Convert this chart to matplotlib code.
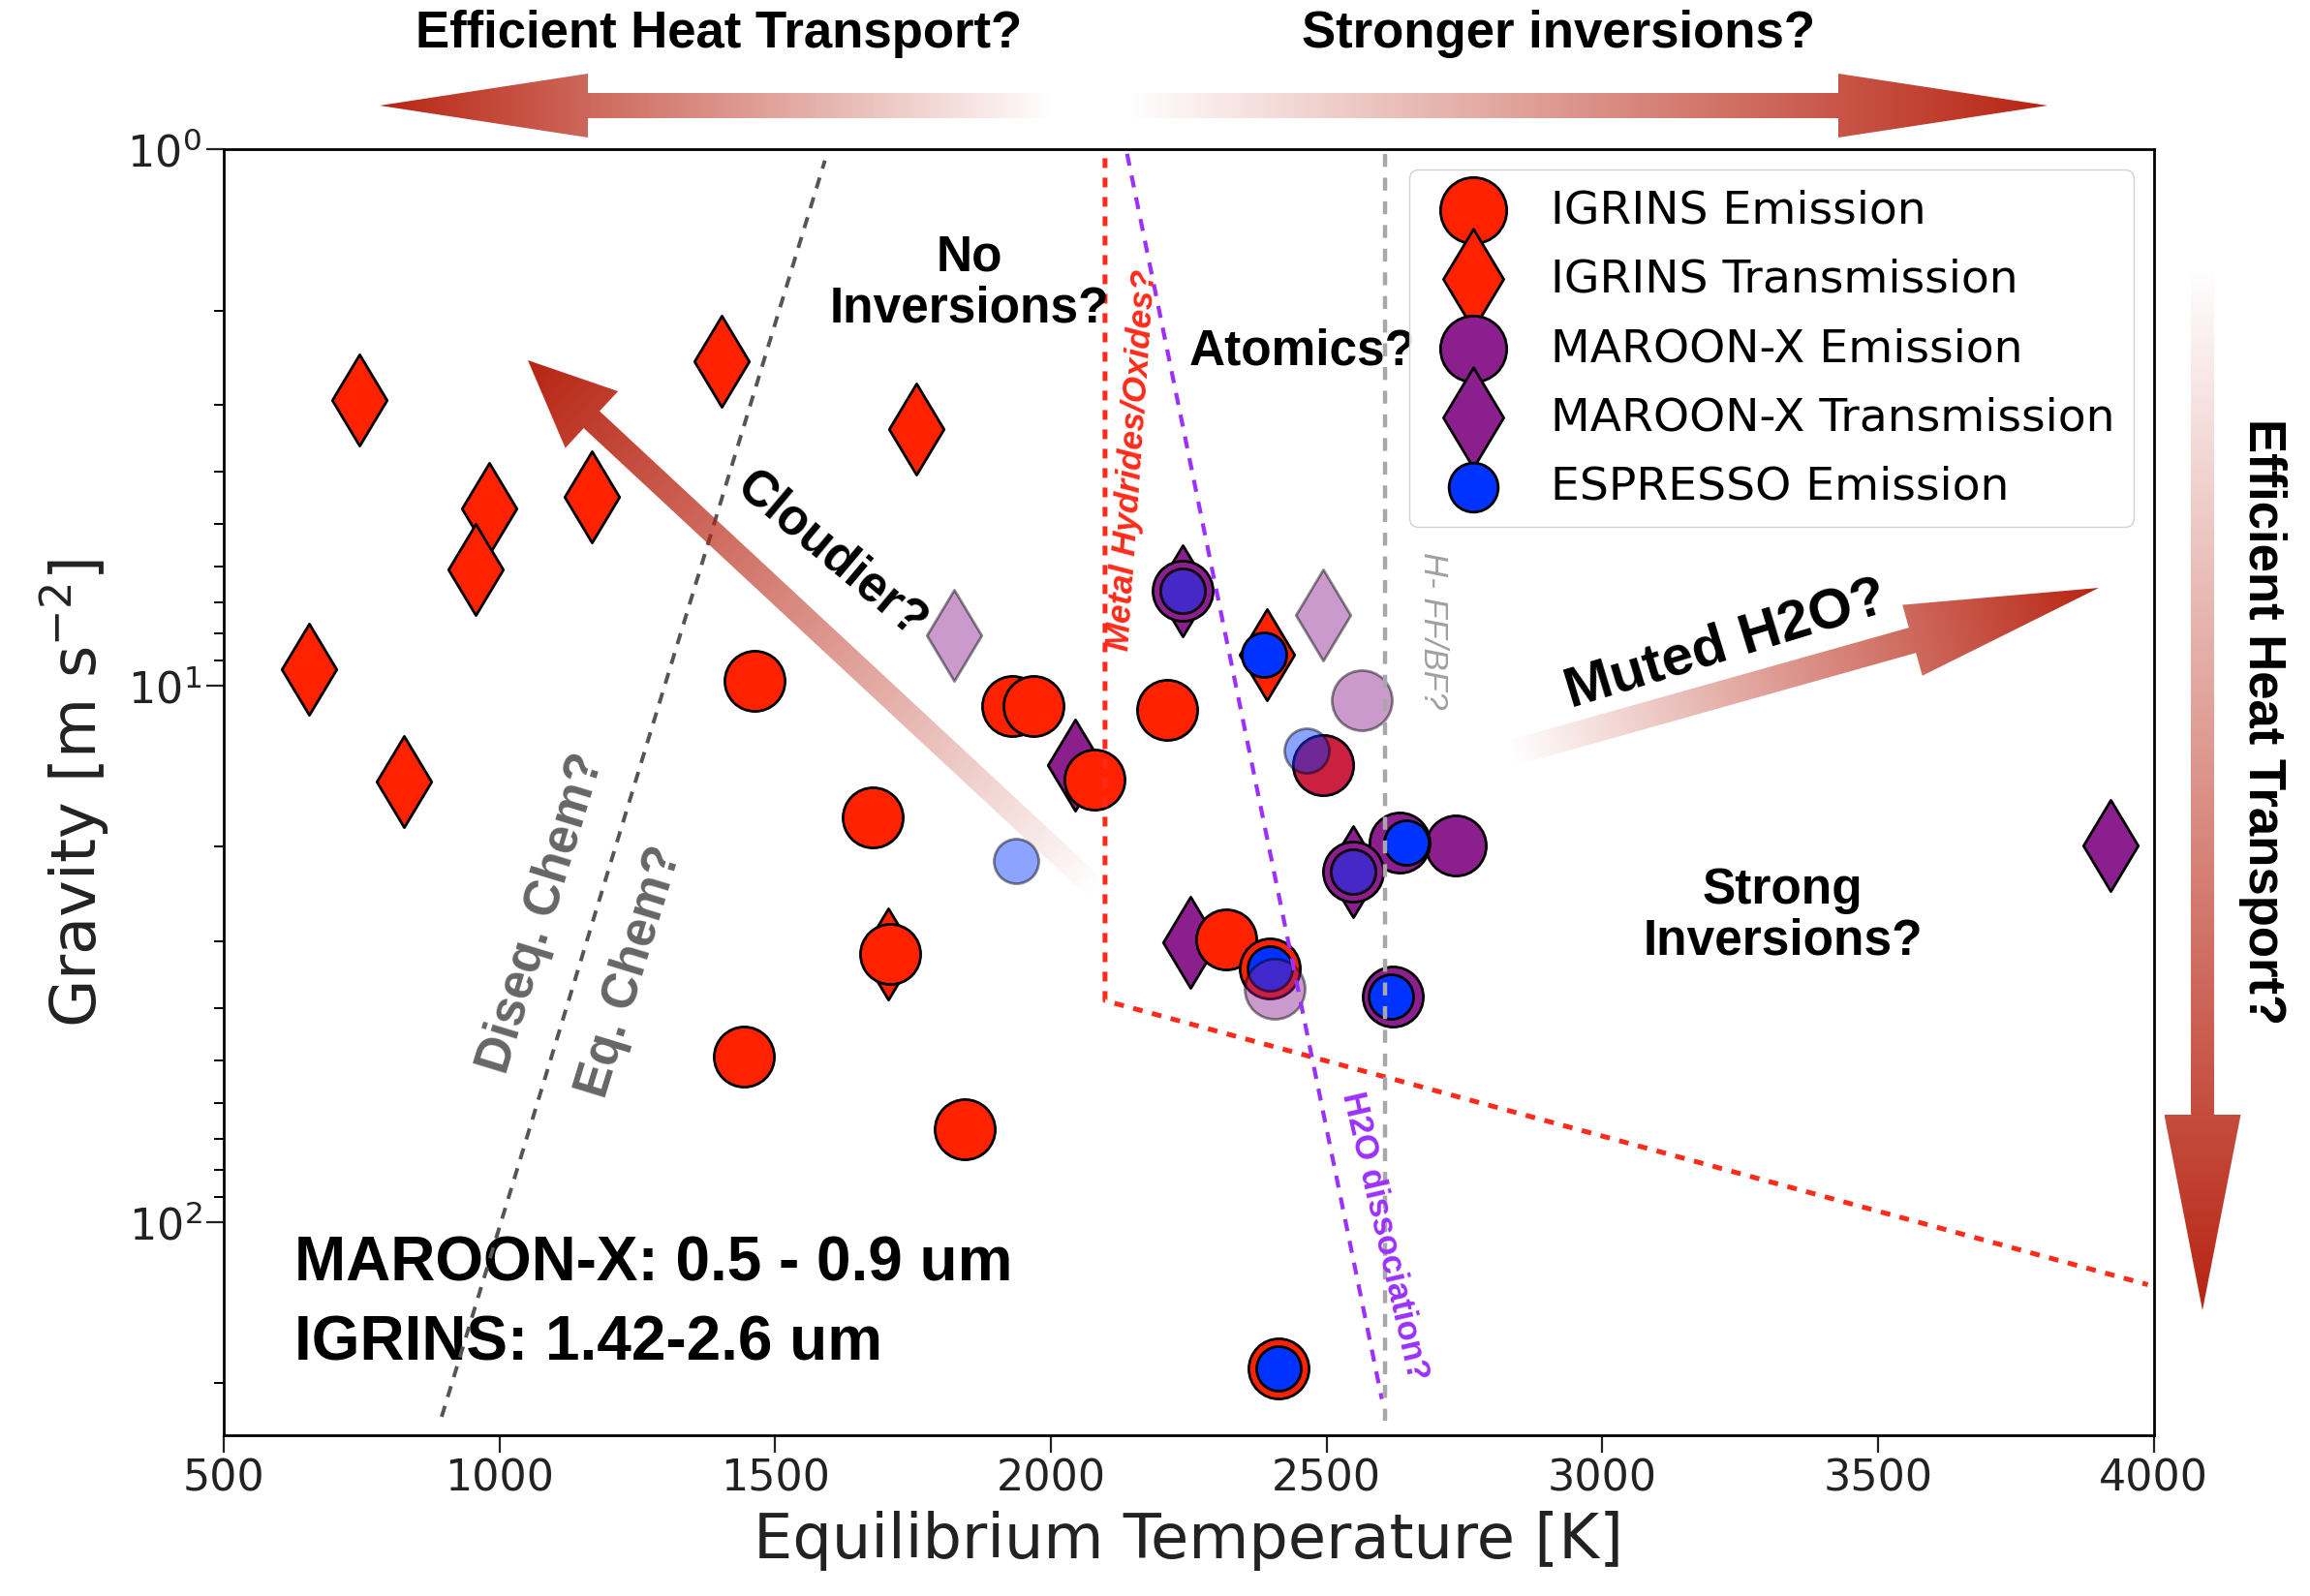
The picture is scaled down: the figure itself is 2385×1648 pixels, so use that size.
import numpy as np
import matplotlib
matplotlib.use("Agg")
import matplotlib.pyplot as plt
from matplotlib.patches import Polygon
from matplotlib.ticker import NullFormatter

W, H = 2385, 1649

# ---- data: equilibrium temperature [K] and gravity [m s^-2] ----
igrins_em_T = [1462, 1929, 1969, 2079, 1676, 2210, 2493, 1708, 2317, 1443, 1844, 2413, 2397]
igrins_em_g = [9.8, 10.9, 10.9, 15.0, 17.6, 11.1, 14.1, 31.6, 29.7, 49.2, 67.1, 188, 33.7]

igrins_tr_T = [746, 1403, 1756, 981, 1168, 957, 655, 826, 1705, 2392]
igrins_tr_g = [2.93, 2.49, 3.33, 4.68, 4.45, 6.07, 9.33, 15.1, 31.6, 8.76]

mx_em_T = [2734, 2632, 2619, 2547, 2239]
mx_em_g = [19.9, 19.6, 38.0, 22.2, 6.67]

mx_tr_T = [2044, 2253, 3922, 2239, 2547]
mx_tr_g = [14.1, 30.1, 19.9, 6.67, 22.2]

esp_em_T = [2239, 2386, 2645, 2397, 2616, 2413, 2547]
esp_em_g = [6.67, 8.76, 19.6, 33.7, 38.0, 188, 22.2]

# faint points
mx_em_faint_T = [2563, 2493, 2405]
mx_em_faint_g = [10.65, 14.1, 36.8]
mx_em_faint_inner_T = [2239, 2547]
mx_em_faint_inner_g = [6.67, 22.2]
mx_tr_faint_T = [1825, 2493]
mx_tr_faint_g = [8.07, 7.38]
esp_faint_T = [1937, 2464]
esp_faint_g = [21.2, 13.2]

# boundary lines
chem_T = [895, 1590]
chem_g = [231, 1.05]
hydride_T = [2098, 2098, 3989]
hydride_g = [1.04, 38.7, 131]
h2o_T = [2138, 2600]
h2o_g = [1.02, 214]
hff_T = [2605, 2605]
hff_g = [1.02, 235]

RED = '#ff2200'
PURPLE = '#8c1f8e'
BLUE = '#0033ff'
ANN = 'Liberation Sans'

fig = plt.figure(figsize=(W / 100, H / 100), dpi=100)
ax = fig.add_axes([0.0969, 0.1007, 0.8355, 0.8053])

ax.plot(chem_T, chem_g, ls=(0, (3, 2.5)), color='#555555', lw=2.8, zorder=6)
ax.plot(hydride_T, hydride_g, ls=(0, (2, 2)), color='#ff2a1a', lw=3.6, zorder=6)
ax.plot(h2o_T, h2o_g, ls=(0, (3, 2.5)), color='#9b30ff', lw=3, zorder=6)
ax.plot(hff_T, hff_g, ls=(0, (3, 2.5)), color='#a8a8a8', lw=3.2, zorder=6)

kw = dict(edgecolors='black', linewidths=2)
ax.scatter(igrins_em_T, igrins_em_g, s=2000, marker='o', c=RED, label='IGRINS Emission', zorder=3, **kw)
ax.scatter(igrins_tr_T, igrins_tr_g, s=2300, marker='d', c=RED, label='IGRINS Transmission', zorder=2, **kw)
ax.scatter(mx_em_T, mx_em_g, s=2000, marker='o', c=PURPLE, label='MAROON-X Emission', zorder=3.5, **kw)
ax.scatter(mx_tr_T, mx_tr_g, s=2300, marker='d', c=PURPLE, label='MAROON-X Transmission', zorder=2.5, **kw)
ax.scatter(esp_em_T, esp_em_g, s=1100, marker='o', c=BLUE, label='ESPRESSO Emission', zorder=4, **kw)

ax.scatter(mx_tr_faint_T, mx_tr_faint_g, s=2300, marker='d', c=PURPLE, alpha=0.45, zorder=4.2, **kw)
ax.scatter(mx_em_faint_T, mx_em_faint_g, s=2000, marker='o', c=PURPLE, alpha=0.45, zorder=4.3, **kw)
ax.scatter(esp_faint_T, esp_faint_g, s=1100, marker='o', c=BLUE, alpha=0.45, zorder=4.4, **kw)
ax.scatter(mx_em_faint_inner_T, mx_em_faint_inner_g, s=1100, marker='o', c=PURPLE, alpha=0.5,
           zorder=4.5, **kw)

ax.set_yscale('log')
ax.set_xlim(500, 4000)
ax.set_ylim(250, 1)
ax.set_xticks(np.arange(500, 4001, 500))
ax.yaxis.set_minor_formatter(NullFormatter())
ax.tick_params(axis='both', which='major', labelsize=32, length=13, width=1.6, colors='#222222')
ax.tick_params(axis='y', which='minor', length=7, width=1.4)
for sp in ax.spines.values():
    sp.set_linewidth(2)
ax.set_xlabel('Equilibrium Temperature [K]', fontsize=46, color='#222222', labelpad=8)
ax.set_ylabel('Gravity [m s$^{-2}$]', fontsize=46, color='#222222', labelpad=12)

leg = ax.legend(loc='upper right', fontsize=34, markerscale=1.1, framealpha=0.9,
                borderaxespad=0.45, labelspacing=0.56, handletextpad=0.7)
leg.set_zorder(10)

# annotations inside the axes
bold = dict(family=ANN, fontweight='bold', ha='center', va='center', zorder=8)
ax.text(1852, 1.77, 'No\nInversions?', fontsize=37, linespacing=1.1, **bold)
ax.text(2456, 2.37, 'Atomics?', fontsize=37, **bold)
ax.text(3327, 26.8, 'Strong\nInversions?', fontsize=37, linespacing=1.1, **bold)
ax.text(1603, 5.7, 'Cloudier?', fontsize=37, rotation=-40, **bold)
ax.text(3225, 8.38, 'Muted H2O?', fontsize=42, rotation=17, **bold)
ax.text(1077, 26.5, 'Diseq. Chem?', fontsize=37, rotation=73, color='#666666', **bold)
ax.text(1237, 34.1, 'Eq. Chem?', fontsize=37, rotation=73, color='#666666', **bold)
ax.text(2148, 3.78, 'Metal Hydrides/Oxides?', fontsize=25, rotation=86, color='#ff2a1a',
        style='italic', **bold)
ax.text(2693, 7.86, 'H- FF/BF?', fontsize=25, rotation=-90, color='#a0a0a0', style='italic',
        family=ANN, ha='center', va='center')
ax.text(2605, 106, 'H2O dissociation?', fontsize=25, rotation=-77, color='#9b30ff', **bold)
ax.text(0.0366, 0.134, 'MAROON-X: 0.5 - 0.9 um', transform=ax.transAxes, fontsize=46,
        family=ANN, fontweight='bold', ha='left', va='center')
ax.text(0.0366, 0.072, 'IGRINS: 1.42-2.6 um', transform=ax.transAxes, fontsize=46,
        family=ANN, fontweight='bold', ha='left', va='center')

# overlay in figure pixels for the gradient arrows and outer labels
ov = fig.add_axes([0, 0, 1, 1], zorder=5)
ov.axis('off')


def grad_arrow(a, tail, tip, width, head_w, head_len, rgb=(0.72, 0.14, 0.07)):
    tail = np.array(tail, float)
    tip = np.array(tip, float)
    d = tip - tail
    L = np.hypot(*d)
    u = d / L
    n = np.array([-u[1], u[0]])
    base = tip - u * head_len
    pts = [tail + n * width / 2, base + n * width / 2, base + n * head_w / 2, tip,
           base - n * head_w / 2, base - n * width / 2, tail - n * width / 2]
    poly = Polygon(pts, closed=True, fc='none', ec='none')
    a.add_patch(poly)
    xs = [p[0] for p in pts]
    ys = [p[1] for p in pts]
    x0, x1, y0, y1 = min(xs), max(xs), min(ys), max(ys)
    gx, gy = np.meshgrid(np.linspace(x0, x1, 300), np.linspace(y0, y1, 300))
    t = np.clip(((gx - tail[0]) * u[0] + (gy - tail[1]) * u[1]) / L, 0, 1)
    img = np.zeros(gx.shape + (4,))
    img[..., :3] = rgb
    img[..., 3] = t
    im = a.imshow(img, extent=(x0, x1, y1, y0), origin='upper', aspect='auto',
                  interpolation='bilinear')
    im.set_clip_path(poly)


grad_arrow(ov, (1090, 110), (392, 110), 26, 66, 215)
grad_arrow(ov, (1162, 110), (2114, 110), 26, 66, 216)
grad_arrow(ov, (2274, 274), (2274, 1354), 24, 79, 202)
grad_arrow(ov, (1133, 920), (545, 373), 24, 80, 90)
grad_arrow(ov, (1559, 779), (2167, 608), 27, 76, 200)

ov.set_xlim(0, W)
ov.set_ylim(H, 0)

top = dict(family=ANN, fontweight='bold', fontsize=38, ha='center', va='center')
ov.text(742, 35, 'Efficient Heat Transport?', **top)
ov.text(1609, 35, 'Stronger inversions?', **top)
ov.text(2336, 745, 'Efficient Heat Transport?', rotation=-90, **top)

fig.savefig('out.png', dpi=100, facecolor='white')
